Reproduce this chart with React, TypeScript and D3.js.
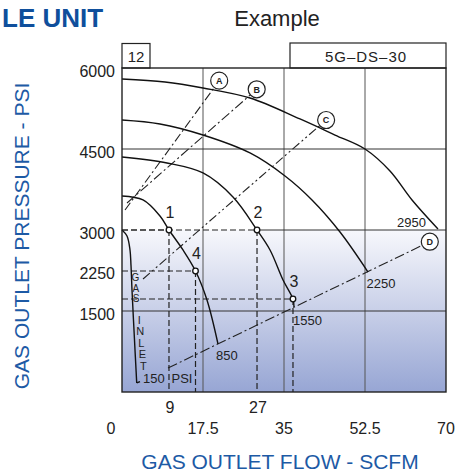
import React from 'react';
import * as d3 from 'd3';

// axis ticks
const flowTicks = [0, 17.5, 35, 52.5, 70];
const pressureTicks = [6000, 4500, 3000, 2250, 1500];
const gridFlows = [17.5, 35, 52.5];
const gridPressures = [4500, 1500];

// performance curves, [flow, pressure]
const curveLabels = ['2950', '2250', '1550', '850'];
const curve2950 = [[0, 5796], [9.29, 5741], [17.5, 5630], [27.65, 5444], [38.45, 5056], [46.02, 4759], [52.5, 4500], [57.9, 4093], [62.66, 3556], [68.27, 3019]];
const curve2250 = [[0, 5037], [8.21, 4963], [17.5, 4759], [27.65, 4426], [35.22, 4000], [41.05, 3556], [47.1, 2963], [53.15, 2222]];
const curve1550 = [[0, 4352], [9.72, 4241], [17.5, 4056], [23.98, 3611], [29.17, 3000], [31.98, 2630], [34.79, 2074], [36.94, 1722], [37.16, 1574]];
const curve850 = [[0, 3630], [4.54, 3556], [8.21, 3259], [10.15, 3000], [13.18, 2630], [15.88, 2241], [18.36, 1704], [20.74, 889]];
const inletCurve = [[0, 3000], [1.08, 2889], [1.73, 2630], [1.94, 2352], [2.16, 1889], [2.7, 963], [3.18, 167]];
const inletHook = [[3.18, 167], [3.89, 194]];

// operating points
const opLabels = ['1', '2', '3', '4'];
const opFlow = [10.15, 29.17, 36.94, 15.88];
const opPressure = [3000, 3000, 1722, 2241];
const flowReadings = ['9', '27']; // read under points 1 and 2

// reference lines A-D
const refLabels = ['A', 'B', 'C', 'D'];
const refFrom = [[0.65, 3370], [1.08, 3500], [4.54, 2093], [9.94, 444]];
const refTo = [[21.0, 5765], [29.1, 5606], [44.1, 5037], [66.5, 2783]];
const refDash = ['9,3,2,3', '10,3,2,3', '9,3,2,3,2,3', '10,3,2,3'];

const W = 457, H = 475;
const left = 122, right = 446, top = 68, bottom = 392;
const font = 'Liberation Sans, Arial, Helvetica, sans-serif';
const blue = '#1d5aa5';

export default function App() {
  const x = d3.scaleLinear().domain([0, 70]).range([left, right]);
  const y = d3.scaleLinear().domain([0, 6000]).range([bottom, top]);

  const smooth = d3.line<number[]>()
    .x(d => x(d[0]))
    .y(d => y(d[1]))
    .curve(d3.curveCatmullRom.alpha(0.5));
  const straight = d3.line<number[]>().x(d => x(d[0])).y(d => y(d[1]));

  const curves = [curve2950, curve2250, curve1550, curve850];
  // label offsets relative to each curve's end
  const labelPos = [
    { dx: -12, dy: -1.5, anchor: 'end' },
    { dx: -1.5, dy: 16, anchor: 'start' },
    { dx: -1, dy: 17.5, anchor: 'start' },
    { dx: -2, dy: 16.5, anchor: 'start' },
  ];
  const r = 8.5;

  const gasLetters = 'GAS'.split('');
  const inletLetters = 'INLET'.split('');

  return (
    <svg width={W} height={H} style={{ position: 'absolute', left: 0, top: 0 }} fontFamily={font}>
      <defs>
        <linearGradient id="lowband" x1="0" y1="0" x2="0" y2="1">
          <stop offset="0" stopColor="#f7f8fc" />
          <stop offset="0.5" stopColor="#c8cfe8" />
          <stop offset="1" stopColor="#97a6d4" />
        </linearGradient>
      </defs>

      {/* heading */}
      <text x={2} y={27} fontSize={26} fontWeight="bold" fill="#0f4f9c">LE UNIT</text>
      <text x={277} y={26} fontSize={22} fill="#222" textAnchor="middle">Example</text>

      {/* boxes above plot */}
      <rect x={left} y={43.5} width={28} height={top - 43.5} fill="none" stroke="#222" strokeWidth={1.2} />
      <text x={left + 14} y={62} fontSize={15} textAnchor="middle" fill="#222">12</text>
      <rect x={290} y={43} width={right - 290} height={top - 43} fill="none" stroke="#222" strokeWidth={1.2} />
      <text x={366} y={62} fontSize={15} textAnchor="middle" fill="#222" letterSpacing={1}>5G–DS–30</text>

      {/* shaded band below 3000 psi */}
      <rect x={x(0)} y={y(3000)} width={x(70) - x(0)} height={y(0) - y(3000)} fill="url(#lowband)" />

      {/* grid */}
      {gridFlows.map(f => (
        <line key={'gx' + f} x1={x(f)} x2={x(f)} y1={y(6000)} y2={y(0)} stroke="#555" strokeWidth={1} />
      ))}
      {gridPressures.map(p => (
        <line key={'gy' + p} x1={x(0)} x2={x(70)} y1={y(p)} y2={y(p)} stroke="#333" strokeWidth={1} />
      ))}
      <line x1={x(opFlow[1])} x2={x(70)} y1={y(3000)} y2={y(3000)} stroke="#333" strokeWidth={1} />

      {/* operating point guide lines */}
      {opFlow.map((f, i) => (
        <g key={'op' + i} stroke="#222" strokeWidth={1.2} strokeDasharray="6,3" fill="none">
          <line x1={x(0)} x2={x(f)} y1={y(opPressure[i])} y2={y(opPressure[i])} />
          <line x1={x(f)} x2={x(f)} y1={y(opPressure[i])} y2={y(0)} />
        </g>
      ))}

      {/* reference lines */}
      {refLabels.map((lab, i) => {
        const x0 = x(refFrom[i][0]), y0 = y(refFrom[i][1]);
        const cx = x(refTo[i][0]), cy = y(refTo[i][1]);
        const len = Math.hypot(cx - x0, cy - y0);
        const ex = cx - (cx - x0) / len * r, ey = cy - (cy - y0) / len * r;
        return (
          <g key={'ref' + lab}>
            <line x1={x0} y1={y0} x2={ex} y2={ey} stroke="#222" strokeWidth={1.1} strokeDasharray={refDash[i]} />
            <circle cx={cx} cy={cy} r={r} fill="#fff" stroke="#222" strokeWidth={1.2} />
            <text x={cx} y={cy + 3.3} fontSize={9} fontWeight="bold" textAnchor="middle" fill="#222">{lab}</text>
          </g>
        );
      })}

      {/* curves */}
      {curves.map((c, i) => {
        const end = c[c.length - 1];
        const lp = labelPos[i];
        return (
          <g key={'c' + i}>
            <path d={smooth(c) || ''} fill="none" stroke="#111" strokeWidth={1.4} />
            <text x={x(end[0]) + lp.dx} y={y(end[1]) + lp.dy} fontSize={13} textAnchor={lp.anchor} fill="#222">
              {curveLabels[i]}
            </text>
          </g>
        );
      })}
      <path d={smooth(inletCurve) || ''} fill="none" stroke="#111" strokeWidth={1.4} />
      <path d={straight(inletHook) || ''} fill="none" stroke="#111" strokeWidth={1.4} />

      {/* GAS INLET 150 PSI, stacked letters */}
      <text fontSize={10} textAnchor="middle" fill="#222">
        {gasLetters.map((ch, i) => (
          <tspan key={'g' + i} x={135.5 + i * 0.3} y={281 + i * 10.6}>{ch}</tspan>
        ))}
      </text>
      <text fontSize={11} textAnchor="middle" fill="#222">
        {inletLetters.map((ch, i) => (
          <tspan key={'n' + i} x={139.3 + i * 1.0} y={323.5 + i * 11.6}>{ch}</tspan>
        ))}
      </text>
      <text x={143} y={383} fontSize={13} fill="#222">150</text>
      <text x={182} y={383} fontSize={13} textAnchor="middle" fill="#222">PSI</text>

      {/* operating points */}
      {opFlow.map((f, i) => (
        <g key={'pt' + i}>
          <circle cx={x(f)} cy={y(opPressure[i])} r={2.8} fill="#fff" stroke="#111" strokeWidth={1.3} />
          <text x={x(f) + 1} y={y(opPressure[i]) - 12} fontSize={16} textAnchor="middle" fill="#222">{opLabels[i]}</text>
        </g>
      ))}

      {/* frame */}
      <rect x={left} y={top} width={right - left} height={bottom - top} fill="none" stroke="#222" strokeWidth={1.4} />

      {/* axis labels */}
      {pressureTicks.map(p => (
        <text key={'yt' + p} x={left - 7} y={y(p) + 8.5} fontSize={16} textAnchor="end" fill="#222">{p}</text>
      ))}
      {flowTicks.map(f => (
        <text key={'xt' + f} x={x(f) + (f === 0 ? -11 : 0)} y={434} fontSize={16} textAnchor="middle" fill="#222">{f}</text>
      ))}
      {flowReadings.map((t, i) => (
        <text key={'fr' + i} x={x(opFlow[i]) + 1} y={413} fontSize={16} textAnchor="middle" fill="#222">{t}</text>
      ))}

      <text x={280} y={469} fontSize={21} textAnchor="middle" fill={blue}>GAS OUTLET FLOW - SCFM</text>
      <text transform="translate(29,236) rotate(-90)" fontSize={21} textAnchor="middle" fill={blue}>GAS OUTLET PRESSURE - PSI</text>
    </svg>
  );
}
